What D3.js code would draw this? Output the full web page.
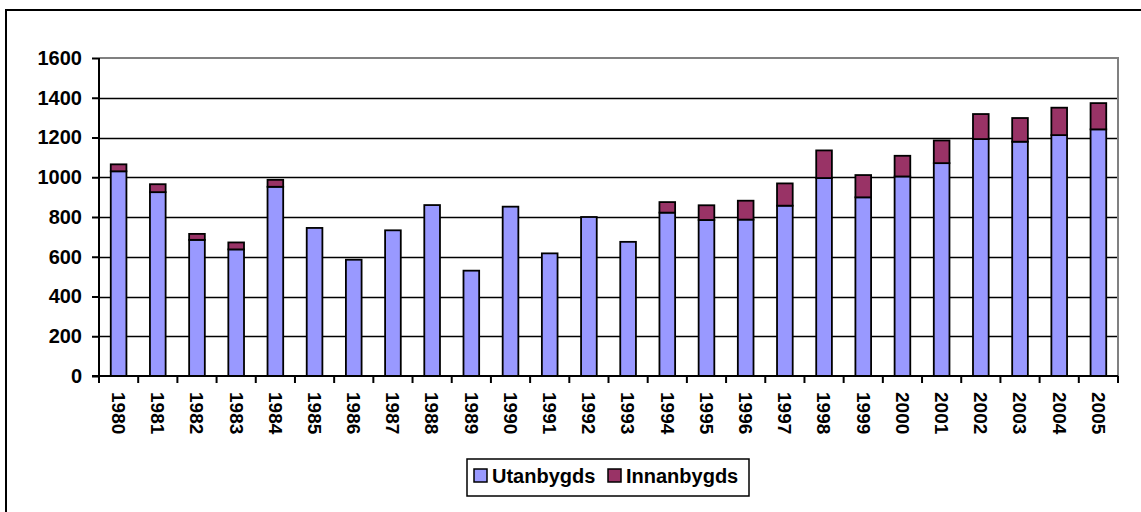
<!DOCTYPE html>
<html>
<head>
<meta charset="utf-8">
<script src="https://cdn.jsdelivr.net/npm/d3@7"></script>
<style>
  body { margin: 0; background: #fff; }
  svg { display: block; font-family: Arial, "Liberation Sans", sans-serif; font-weight: bold; }
</style>
</head>
<body>
<svg id="viz"></svg>
<script>
const years = ["1980","1981","1982","1983","1984","1985","1986","1987","1988","1989","1990","1991","1992","1993","1994","1995","1996","1997","1998","1999","2000","2001","2002","2003","2004","2005"];
const utanbygds = [1030, 925, 685, 637, 952, 745, 585, 733, 860, 530, 852, 617, 800, 675, 822, 785, 787, 857, 996, 899, 1004, 1071, 1192, 1179, 1212, 1241];
const innanbygds = [35, 40, 30, 35, 35, 0, 0, 0, 0, 0, 0, 0, 0, 0, 53, 74, 95, 112, 139, 112, 104, 114, 126, 119, 138, 132];
const seriesNames = ["Utanbygds", "Innanbygds"];
const seriesColors = ["#9999FF", "#993366"];
const yTicks = [0, 200, 400, 600, 800, 1000, 1200, 1400, 1600];

const width = 1141, height = 512;
const margin = { top: 58, right: 23, bottom: 136, left: 99 };

const svg = d3.select("#viz")
    .attr("width", width)
    .attr("height", height)
    .attr("viewBox", [0, 0, width, height]);

// outer chart frame (runs off the right and bottom edges)
svg.append("rect")
    .attr("x", 6).attr("y", 10)
    .attr("width", width + 20).attr("height", height + 20)
    .attr("fill", "none")
    .attr("stroke", "#000")
    .attr("stroke-width", 2);

const data = years.map((y, i) => ({ year: y, Utanbygds: utanbygds[i], Innanbygds: innanbygds[i] }));
const stacked = d3.stack().keys(seriesNames)(data);

const x = d3.scaleBand()
    .domain(years)
    .range([margin.left, width - margin.right])
    .paddingInner(0.6)
    .paddingOuter(0.3);

const y = d3.scaleLinear()
    .domain([0, 1600])
    .range([height - margin.bottom, margin.top]);

// gridlines
svg.append("g")
    .selectAll("line")
    .data(yTicks.filter(d => d > 0 && d < 1600))
    .join("line")
        .attr("x1", margin.left)
        .attr("x2", width - margin.right)
        .attr("y1", d => Math.round(y(d)) + 0.5)
        .attr("y2", d => Math.round(y(d)) + 0.5)
        .attr("stroke", "#000")
        .attr("stroke-width", 1.3);

// plot area border (top / right)
svg.append("path")
    .attr("d", `M${margin.left},${y(1600)}H${width - margin.right}V${y(0)}`)
    .attr("fill", "none")
    .attr("stroke", "#808080")
    .attr("stroke-width", 2);

// bars
svg.append("g")
    .selectAll("g")
    .data(stacked)
    .join("g")
        .attr("fill", (d, i) => seriesColors[i])
    .selectAll("rect")
    .data(d => d.filter(p => p[1] > p[0]))
    .join("rect")
        .attr("x", d => x(d.data.year))
        .attr("y", d => y(d[1]))
        .attr("width", x.bandwidth())
        .attr("height", d => y(d[0]) - y(d[1]))
        .attr("stroke", "#000")
        .attr("stroke-width", 1.8);

// y axis
const yAxis = svg.append("g")
    .attr("transform", `translate(${margin.left},0)`)
    .call(d3.axisLeft(y).tickValues(yTicks).tickSize(7).tickPadding(10).tickFormat(d3.format("d")));
yAxis.select(".domain").attr("stroke", "#000").attr("stroke-width", 2).attr("d", `M0,${y(1600)}V${y(0)}`);
yAxis.selectAll(".tick line").attr("stroke", "#000").attr("stroke-width", 2);
yAxis.selectAll("text")
    .attr("fill", "#000")
    .style("font-size", "20px")
    .style("font-weight", "bold");

// x axis: ticks at category boundaries
const step = x.step();
const xBoundaries = years.map(d => x(d) - step * 0.3).concat([width - margin.right]);
const xAxis = svg.append("g");
xAxis.append("line")
    .attr("x1", margin.left - 7).attr("x2", width - margin.right)
    .attr("y1", y(0)).attr("y2", y(0))
    .attr("stroke", "#000").attr("stroke-width", 2);
xAxis.selectAll(".xtick")
    .data(xBoundaries)
    .join("line")
        .attr("class", "xtick")
        .attr("x1", d => d).attr("x2", d => d)
        .attr("y1", y(0)).attr("y2", y(0) + 7)
        .attr("stroke", "#000").attr("stroke-width", 2);
xAxis.selectAll(".xlabel")
    .data(years)
    .join("text")
        .attr("class", "xlabel")
        .attr("transform", d => `translate(${x(d) + x.bandwidth() / 2},${y(0) + 16}) rotate(90)`)
        .attr("dy", "0.35em")
        .attr("text-anchor", "start")
        .style("font-size", "19px")
        .text(d => d);

// legend
const legend = svg.append("g").attr("transform", "translate(467,459)");
legend.append("rect")
    .attr("width", 282).attr("height", 37)
    .attr("fill", "#fff")
    .attr("stroke", "#000")
    .attr("stroke-width", 1.5);
const legendX = [7, 141];
const item = legend.selectAll(".item")
    .data(seriesNames)
    .join("g")
        .attr("class", "item")
        .attr("transform", (d, i) => `translate(${legendX[i]},10)`);
item.append("rect")
    .attr("width", 13).attr("height", 13)
    .attr("fill", (d, i) => seriesColors[i])
    .attr("stroke", "#000")
    .attr("stroke-width", 1.5);
item.append("text")
    .attr("x", 18)
    .attr("y", 7)
    .attr("dy", "0.36em")
    .style("font-size", "20px")
    .text(d => d);
</script>
</body>
</html>
